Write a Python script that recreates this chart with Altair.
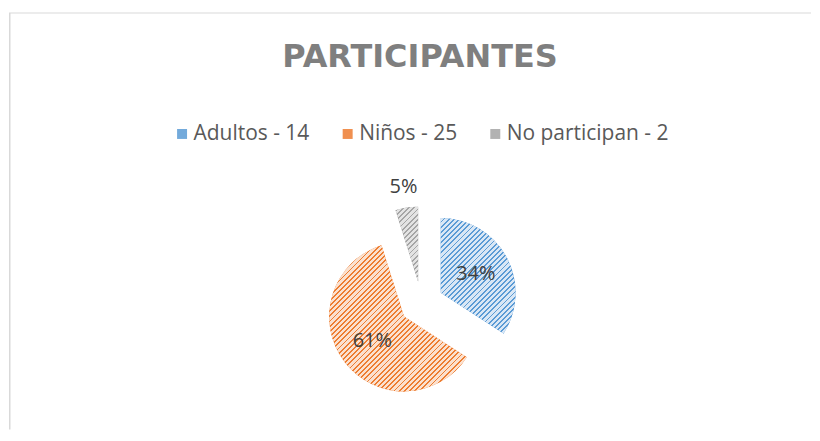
import math
import altair as alt
import pandas as pd

# ---- data ----
categories = ["Adultos", "Niños", "No participan"]
values = [14, 25, 2]
colors = ["#5B9BD5", "#ED7D31", "#A5A5A5"]
stripe_bg = ["#D9E7F5", "#FBE1CF", "#E3E3E3"]
title_text = "PARTICIPANTES"

labels = [f"{c} - {v}" for c, v in zip(categories, values)]
df = pd.DataFrame({
    "category": categories,
    "value": values,
    "label": labels,
    "order": list(range(len(categories))),
})

# ---- layout / style ----
W, H = 804, 422
CX, CY = 413.5, 295.5
R = 75
EXPLODE = 22
PERIOD = 5.2
STRIPE = 0.36


def hatch(i):
    total = sum(values)
    a0 = 2 * math.pi * sum(values[:i]) / total
    a1 = 2 * math.pi * sum(values[: i + 1]) / total
    pts = [(0.0, 0.0), (R * math.sin(a0), -R * math.cos(a0)), (R * math.sin(a1), -R * math.cos(a1))]
    for k in range(5):
        a = k * math.pi / 2
        if a0 <= a <= a1:
            pts.append((R * math.sin(a), -R * math.cos(a)))
    xs = [p[0] for p in pts]
    ys = [p[1] for p in pts]
    w = max(xs) - min(xs)
    h = max(ys) - min(ys)
    n = max(1, round((w + h) / PERIOD))
    fg, bg = colors[i], stripe_bg[i]
    stops = []
    for j in range(n):
        s = j / n
        m = (j + 1 - STRIPE) / n
        e = (j + 1) / n
        stops += [
            {"offset": s, "color": bg},
            {"offset": m, "color": bg},
            {"offset": m, "color": fg},
            {"offset": e, "color": fg},
        ]
    k = (w * w + h * h) / (w + h)
    return {"gradient": "linear", "x1": 0, "y1": 0, "x2": w / k, "y2": h / k, "stops": stops}


base = (
    alt.Chart(df)
    .transform_window(cum="sum(value)", sort=[alt.SortField("order")], frame=[None, 0])
    .transform_joinaggregate(total="sum(value)")
    .transform_calculate(t0="2*PI*(datum.cum - datum.value)/datum.total")
    .transform_calculate(t1="2*PI*datum.cum/datum.total")
    .transform_calculate(mid="(datum.t0 + datum.t1)/2")
    .transform_calculate(pct="datum.value/datum.total")
    .transform_calculate(cx=f"{CX} + {EXPLODE}*sin(datum.mid)")
    .transform_calculate(cy=f"{CY} - {EXPLODE}*cos(datum.mid)")
    .transform_calculate(lr="datum.pct < 0.1 ? 96 : 40")
)

pos = dict(
    x=alt.X("cx:Q", scale=None, axis=None),
    y=alt.Y("cy:Q", scale=None, axis=None),
    theta=alt.Theta("t0:Q", scale=None, stack=None),
    theta2=alt.Theta2("t1:Q"),
)

arcs = base.mark_arc(radius=R).encode(
    color=alt.Color(
        "label:N",
        scale=alt.Scale(domain=labels, range=colors),
        legend=alt.Legend(
            title=None,
            orient="none",
            legendX=163,
            legendY=115,
            direction="horizontal",
            columns=3,
            symbolType="square",
            symbolSize=100,
            symbolStrokeWidth=0,
            symbolOpacity=0.85,
            labelFont="Open Sans",
            labelFontSize=21,
            labelColor="#595959",
            labelOffset=1,
            labelLimit=400,
            columnPadding=27,
            padding=0,
        ),
    ),
    **pos,
)

hatches = [
    base.transform_filter(alt.datum.category == cat).mark_arc(radius=R, fill=hatch(i)).encode(**pos)
    for i, cat in enumerate(categories)
]

text = base.mark_text(font="Open Sans", fontSize=20, color="#404040", align="center", baseline="middle").encode(
    x=alt.X("cx:Q", scale=None, axis=None),
    y=alt.Y("cy:Q", scale=None, axis=None),
    theta=alt.Theta("mid:Q", scale=None, stack=None),
    radius=alt.Radius("lr:Q", scale=None),
    text=alt.Text("pct:Q", format=".0%"),
)

one = pd.DataFrame({"k": [0]})
border_top = alt.Chart(one).mark_rule(color="#D9D9D9", strokeWidth=1).encode(
    x=alt.value(0), x2=alt.value(W), y=alt.value(4.5)
)
border_left = alt.Chart(one).mark_rule(color="#D9D9D9", strokeWidth=1.5).encode(
    x=alt.value(0.75), y=alt.value(4.5), y2=alt.value(H)
)

chart = (
    alt.layer(border_top, border_left, arcs, *hatches, text)
    .properties(
        width=W,
        height=H,
        padding=0,
        title=alt.TitleParams(
            title_text,
            font="DejaVu Sans",
            fontSize=32,
            fontWeight="bold",
            color="#7F7F7F",
            anchor="middle",
            offset=-66,
            dx=10,
        ),
    )
    .configure_view(stroke=None)
)

chart.save("out.html", embed_options={"renderer": "svg", "actions": False})
